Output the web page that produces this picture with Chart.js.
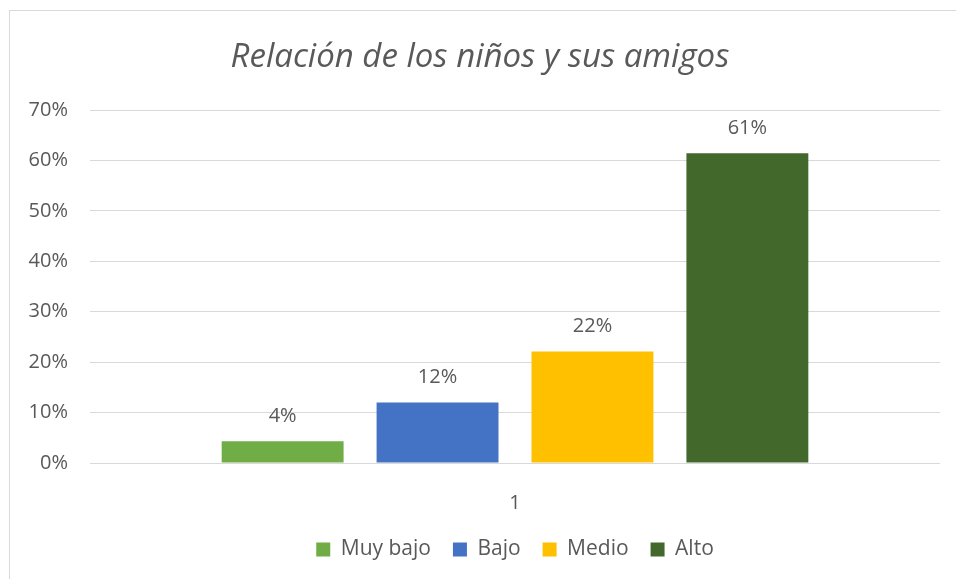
<!DOCTYPE html>
<html lang="es">
<head>
  <meta charset="UTF-8" />
  <title>Relación de los niños y sus amigos</title>
  <script src="https://cdn.jsdelivr.net/npm/chart.js"></script>
  <style>
    body {
      margin: 0;
      background: #ffffff;
      overflow: hidden;
    }
    #frame {
      position: absolute;
      left: 9px;
      top: 10px;
      width: 1000px;
      height: 620px;
      border-left: 1px solid #d9d9d9;
      border-top: 1px solid #d9d9d9;
    }
    #wrap {
      position: absolute;
      left: 0;
      top: 0;
      width: 960px;
      height: 579px;
    }
  </style>
</head>
<body>
  <div id="frame"></div>
  <div id="wrap"><canvas id="chart"></canvas></div>

<script>
  const categories = ['1'];
  const seriesNames = ['Muy bajo', 'Bajo', 'Medio', 'Alto'];
  const seriesValues = [4.3, 12.0, 22.1, 61.4];
  const seriesColors = ['#70ad47', '#4472c4', '#ffc000', '#43682b'];
  const yTicks = [0, 10, 20, 30, 40, 50, 60, 70];

  const textColor = '#595959';
  const fontFamily = '"Open Sans", sans-serif';

  // etiquetas de valor encima de cada barra
  const barLabels = {
    id: 'barLabels',
    afterDatasetsDraw(chart) {
      const ctx = chart.ctx;
      ctx.save();
      ctx.font = '20px ' + fontFamily;
      ctx.fillStyle = textColor;
      ctx.textAlign = 'center';
      ctx.textBaseline = 'middle';
      chart.data.datasets.forEach((ds, i) => {
        chart.getDatasetMeta(i).data.forEach((bar, j) => {
          ctx.fillText(Math.round(ds.data[j]) + '%', bar.x, bar.y - 25);
        });
      });
      ctx.restore();
    }
  };

  const datasets = seriesNames.map((name, i) => ({
    label: name,
    data: [seriesValues[i]],
    backgroundColor: seriesColors[i],
    borderWidth: 0,
    barPercentage: 0.787,
    categoryPercentage: 0.729
  }));

  new Chart(document.getElementById('chart'), {
    type: 'bar',
    data: { labels: categories, datasets: datasets },
    plugins: [barLabels],
    options: {
      responsive: true,
      maintainAspectRatio: false,
      animation: false,
      layout: { padding: { left: 0, right: 0, top: 0, bottom: 9 } },
      plugins: {
        tooltip: { enabled: false },
        title: {
          display: true,
          text: 'Relación de los niños y sus amigos',
          color: textColor,
          font: { family: fontFamily, size: 33, style: 'italic', weight: 'normal' },
          padding: { top: 37.5, bottom: 32.9 }
        },
        legend: {
          position: 'bottom',
          fullSize: false,
          labels: {
            color: textColor,
            font: { family: fontFamily, size: 21 },
            boxWidth: 14,
            boxHeight: 14,
            padding: 22
          }
        }
      },
      scales: {
        x: {
          grid: { display: false },
          border: { display: false },
          ticks: { color: textColor, font: { family: fontFamily, size: 20 }, padding: 20 },
          afterFit(scale) { scale.height = 54; }
        },
        y: {
          min: 0,
          max: 70,
          afterBuildTicks(scale) { scale.ticks = yTicks.map(v => ({ value: v })); },
          grid: { color: '#d9d9d9', lineWidth: 1, drawTicks: false },
          border: { display: false },
          ticks: {
            color: textColor,
            font: { family: fontFamily, size: 20 },
            padding: 22,
            callback: v => v + '%'
          },
          afterFit(scale) { scale.width = 90; }
        },
        // margen derecho vacío, para centrar el título como en el original
        yRight: {
          position: 'right',
          display: true,
          grid: { display: false },
          border: { display: false },
          ticks: { display: false },
          afterFit(scale) { scale.width = 20; }
        }
      }
    }
  });
</script>
</body>
</html>
